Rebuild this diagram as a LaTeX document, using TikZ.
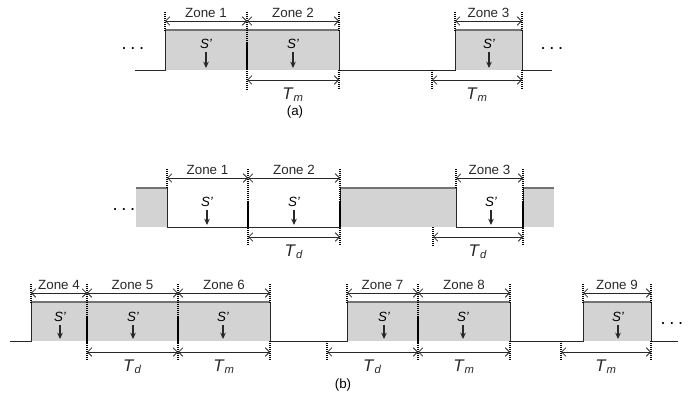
\documentclass[tikz,border=0pt]{standalone}
\usepackage{fontspec}
\setmainfont{Liberation Sans}
\usetikzlibrary{arrows.meta}
\definecolor{sigdark}{RGB}{40,40,40}
\definecolor{edgegray}{RGB}{115,115,115}
\definecolor{slotgray}{RGB}{211,211,211}
\tikzset{
  sig/.style={line width=0.7pt, color=sigdark},
  topedge/.style={line width=0.8pt, color=edgegray},
  slot/.style={fill=slotgray},
  marker/.style={line width=1.1pt, dash pattern=on 1pt off 0.4pt, color=black},
  dim/.style={{Straight Barb[length=3pt,width=6pt]}-{Straight Barb[length=3pt,width=6pt]}, line width=0.6pt, color=sigdark},
  zonelbl/.style={above=1pt, inner sep=1pt, font=\fontsize{9.5}{10}\selectfont},
  durlbl/.style={below=4pt, inner sep=1pt, font=\fontsize{12}{13}\selectfont},
  slbl/.style={inner sep=1pt, font=\fontsize{9.5}{10}\selectfont\itshape},
  sarrow/.style={-{Stealth[length=4.5pt,width=4pt]}, line width=0.8pt, color=sigdark},
  dots/.style={anchor=base, inner sep=0pt, font=\fontsize{13}{14}\selectfont},
  panel/.style={font=\fontsize{9.5}{10}\selectfont}
}
\newcommand{\durtext}[1]{\textit{T}\textsubscript{\textit{#1}}}
\newcommand{\moredots}{.\hspace{2.6pt}.\hspace{2.6pt}.}

\begin{document}
\begin{tikzpicture}[x=0.025cm, y=-0.025cm]
  \useasboundingbox (0,0) rectangle (696,407);

  % ---------------- (a) ----------------
  \fill[slot] (165,30) rectangle (339,70);
  \fill[slot] (455,30) rectangle (522,70);
  \draw[topedge] (165,30) -- (339,30) (455,30) -- (522,30);
  \draw[sig] (135,70) -- (165,70) -- (165,30);
  \draw[sig] (339,30) -- (339,70) -- (455,70) -- (455,30);
  \draw[sig] (522,30) -- (522,70) -- (552,70);

  \draw[marker] (165,12) -- (165,30);
  \draw[marker] (247,12) -- (247,89);
  \draw[marker] (339,12) -- (339,30) (339,70) -- (339,89);
  \draw[marker] (455,12) -- (455,30);
  \draw[marker] (522,12) -- (522,30) (522,70) -- (522,89);
  \draw[marker] (432,70) -- (432,89);

  \foreach \xa/\xb/\n in {165/247/1, 247/339/2, 455/522/3}
    \draw[dim] (\xa,21) -- node[zonelbl] (za\n) {Zone \n} (\xb,21);
  \draw[dim] (247,80) -- node[durlbl] (ta1) {\durtext{m}} (339,80);
  \draw[dim] (432,80) -- node[durlbl] (ta2) {\durtext{m}} (522,80);

  \foreach \x in {206,293,489} {
    \node[slbl] (sa\x) at (\x,44) {S'};
    \draw[sarrow] (\x,52) -- (\x,68);
  }
  \node[dots] (dota1) at (133,50) {\moredots};
  \node[dots] (dota2) at (552,50) {\moredots};
  \node[panel] (lbla) at (295,112) {(a)};

  % ---------------- (b) top ----------------
  \fill[slot] (136,188) rectangle (167,227);
  \fill[slot] (340,188) rectangle (456,227);
  \fill[slot] (523,188) rectangle (554,227);
  \draw[topedge] (136,188) -- (167,188) (340,188) -- (456,188) (523,188) -- (554,188);
  \draw[sig] (167,188) -- (167,227) -- (340,227) -- (340,188);
  \draw[sig] (456,188) -- (456,227) -- (523,227) -- (523,188);

  \draw[marker] (167,169) -- (167,188);
  \draw[marker] (248,169) -- (248,245);
  \draw[marker] (340,169) -- (340,245);
  \draw[marker] (456,169) -- (456,188);
  \draw[marker] (523,169) -- (523,245);
  \draw[marker] (433,227) -- (433,245);

  \foreach \xa/\xb/\n in {167/248/1, 248/340/2, 456/523/3}
    \draw[dim] (\xa,178) -- node[zonelbl] (zb\n) {Zone \n} (\xb,178);
  \draw[dim] (248,237) -- node[durlbl] (tb1) {\durtext{d}} (340,237);
  \draw[dim] (433,237) -- node[durlbl] (tb2) {\durtext{d}} (523,237);

  \foreach \x in {207,294,491} {
    \node[slbl] (sb\x) at (\x,202) {S'};
    \draw[sarrow] (\x,210) -- (\x,225);
  }
  \node[dots] (dotb1) at (124,210) {\moredots};

  % ---------------- (b) bottom ----------------
  \fill[slot] (31,302) rectangle (270,341);
  \fill[slot] (347,302) rectangle (510,341);
  \fill[slot] (583,302) rectangle (651,341);
  \draw[topedge] (31,302) -- (270,302) (347,302) -- (510,302) (583,302) -- (651,302);
  \draw[sig] (10,341) -- (31,341) -- (31,302);
  \draw[sig] (270,302) -- (270,341) -- (347,341) -- (347,302);
  \draw[sig] (510,302) -- (510,341) -- (583,341) -- (583,302);
  \draw[sig] (651,302) -- (651,341) -- (678,341);

  \draw[marker] (31,284) -- (31,302);
  \draw[marker] (87,284) -- (87,360);
  \draw[marker] (178,284) -- (178,360);
  \draw[marker] (270,284) -- (270,302) (270,341) -- (270,360);
  \draw[marker] (327,341) -- (327,360);
  \draw[marker] (347,284) -- (347,302);
  \draw[marker] (418,284) -- (418,360);
  \draw[marker] (510,284) -- (510,302) (510,341) -- (510,360);
  \draw[marker] (561,341) -- (561,360);
  \draw[marker] (583,284) -- (583,302);
  \draw[marker] (651,284) -- (651,302) (651,341) -- (651,360);

  \foreach \xa/\xb/\n in {31/87/4, 87/178/5, 178/270/6, 347/418/7, 418/510/8, 583/651/9}
    \draw[dim] (\xa,293) -- node[zonelbl] (zb\n) {Zone \n} (\xb,293);
  \foreach \xa/\xb/\s/\n in {87/178/d/3, 178/270/m/4, 327/418/d/5, 418/510/m/6, 561/651/m/7}
    \draw[dim] (\xa,352) -- node[durlbl] (tb\n) {\durtext{\s}} (\xb,352);

  \foreach \x in {60,133,223,384,463,618} {
    \node[slbl] (sc\x) at (\x,317) {S'};
    \draw[sarrow] (\x,325) -- (\x,339);
  }
  \node[dots] (dotb2) at (672,324) {\moredots};
  \node[panel] (lblb) at (343,385) {(b)};
\end{tikzpicture}
\end{document}
